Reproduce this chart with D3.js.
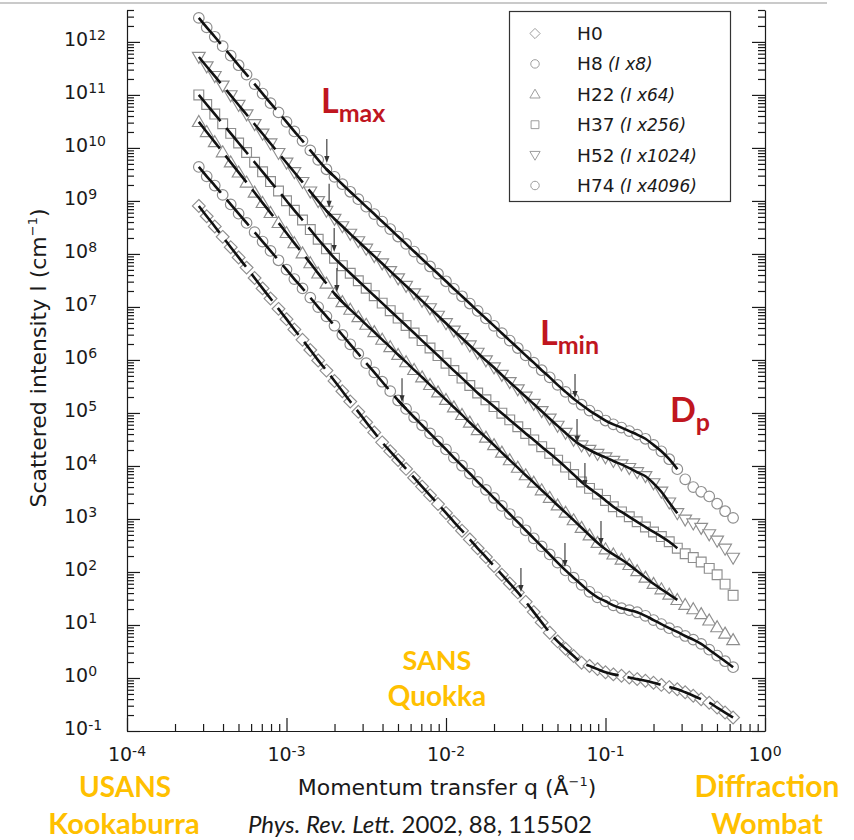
<!DOCTYPE html>
<html>
<head>
<meta charset="utf-8">
<script src="https://cdn.jsdelivr.net/npm/d3@7"></script>
<style>
  html, body { margin: 0; padding: 0; background: #fff; }
  svg { display: block; }
</style>
</head>
<body>
<svg id="chart" width="854" height="840"></svg>
<script>
// Momentum transfer q (1/Å), shared by all samples
const q = [2.82e-4,3.16e-4,3.55e-4,3.98e-4,4.47e-4,5.01e-4,5.62e-4,6.31e-4,7.08e-4,7.94e-4,
  8.91e-4,1.00e-3,1.12e-3,1.26e-3,1.41e-3,1.58e-3,1.78e-3,2.00e-3,2.24e-3,2.51e-3,
  2.82e-3,3.16e-3,3.55e-3,3.98e-3,4.47e-3,5.01e-3,5.62e-3,6.31e-3,7.08e-3,7.94e-3,
  8.91e-3,0.0100,0.0112,0.0126,0.0141,0.0158,0.0178,0.0200,0.0224,0.0251,
  0.0282,0.0316,0.0355,0.0398,0.0447,0.0501,0.0562,0.0631,0.0708,0.0794,
  0.0891,0.100,0.112,0.126,0.141,0.158,0.178,0.200,0.224,0.251,
  0.282,0.316,0.355,0.398,0.447,0.501,0.562,0.631];

// Scattered intensity I (1/cm), already multiplied by the legend factor
const H0 = [8.05e8,5.14e8,3.3e8,2.1e8,1.34e8,8.6e7,5.52e7,3.52e7,2.24e7,1.44e7,
  9.2e6,5.89e6,3.76e6,2.4e6,1.54e6,9.8e5,6.3e5,4.02e5,2.57e5,1.64e5,
  1.05e5,6.68e4,4.3e4,2.79e4,1.89e4,1.29e4,8.8e3,6.0e3,4.08e3,2.79e3,
  1.91e3,1.3e3,885,601,412,280,191,130,88.9,60.7,
  41.2,27.3,17.5,11.2,7.16,4.9,3.57,2.59,1.94,1.69,
  1.47,1.28,1.17,1.10,1.02,0.953,0.889,0.815,0.741,0.673,
  0.612,0.537,0.463,0.398,0.342,0.277,0.223,0.18];
const H8 = [4.38e9,2.91e9,1.95e9,1.3e9,8.6e8,5.75e8,3.85e8,2.57e8,1.71e8,1.14e8,
  7.6e7,5.06e7,3.36e7,2.24e7,1.5e7,9.95e6,6.65e6,4.42e6,2.96e6,1.97e6,
  1.31e6,8.7e5,5.83e5,3.88e5,2.58e5,1.72e5,1.19e5,8.3e4,5.86e4,4.12e4,
  2.91e4,2.05e4,1.44e4,1.01e4,7.2e3,5.0e3,3.54e3,2.49e3,1.76e3,1.24e3,
  871,612,432,304,214,150,107,78,57.3,42.2,
  33.3,28.0,23.5,20.7,19.0,17.4,14.9,12.4,10.4,8.7,
  7.4,6.2,5.3,4.4,3.42,2.65,2.07,1.6];
const H22 = [3.1e10,2.0e10,1.29e10,8.3e9,5.35e9,3.45e9,2.23e9,1.44e9,9.2e8,5.96e8,
  3.86e8,2.49e8,1.6e8,1.03e8,6.7e7,4.3e7,2.77e7,1.78e7,1.24e7,8.9e6,
  6.45e6,4.63e6,3.36e6,2.42e6,1.75e6,1.25e6,9.1e5,6.5e5,4.72e5,3.39e5,
  2.46e5,1.77e5,1.28e5,9.2e4,6.6e4,4.78e4,3.44e4,2.48e4,1.79e4,1.29e4,
  9.3e3,6.7e3,4.86e3,3.49e3,2.52e3,1.81e3,1.32e3,949,682,492,
  356,269,215,172,136,104,78.7,59.9,47.3,37.6,
  29.8,24.0,19.9,16.1,12.2,9.1,6.9,5.2];
const H37 = [1.0e11,6.6e10,4.35e10,2.86e10,1.88e10,1.24e10,8.2e9,5.37e9,3.54e9,2.32e9,
  1.54e9,1.01e9,6.65e8,4.37e8,2.88e8,1.89e8,1.25e8,8.3e7,6.0e7,4.33e7,
  3.12e7,2.25e7,1.63e7,1.18e7,8.5e6,6.15e6,4.46e6,3.22e6,2.32e6,1.68e6,
  1.21e6,8.7e5,6.3e5,4.55e5,3.3e5,2.38e5,1.77e5,1.32e5,9.9e4,7.4e4,
  5.5e4,4.1e4,3.1e4,2.31e4,1.73e4,1.29e4,9.5e3,6.9e3,5.0e3,3.78e3,
  2.94e3,2.24e3,1.7e3,1.36e3,1.1e3,885,706,569,466,372,
  281,221,187,154,117,88.5,59,36.3];
const H52 = [5.2e11,3.44e11,2.26e11,1.49e11,9.8e10,6.45e10,4.27e10,2.8e10,1.85e10,1.21e10,
  8.0e9,5.26e9,3.47e9,2.27e9,1.5e9,9.9e8,6.5e8,4.57e8,3.32e8,2.39e8,
  1.73e8,1.25e8,9.1e7,6.6e7,4.73e7,3.44e7,2.49e7,1.8e7,1.3e7,9.4e6,
  6.8e6,4.92e6,3.56e6,2.57e6,1.87e6,1.36e6,9.8e5,7.2e5,5.2e5,3.81e5,
  2.78e5,2.02e5,1.48e5,1.08e5,7.8e4,5.7e4,4.2e4,3.1e4,2.43e4,2.0e4,
  1.68e4,1.45e4,1.24e4,1.07e4,9.1e3,7.6e3,6.4e3,4.7e3,3.26e3,2.04e3,
  1.28e3,970,820,676,512,388,274,185];
const H74 = [2.84e12,1.88e12,1.25e12,8.3e11,5.5e11,3.63e11,2.42e11,1.60e11,1.06e11,7.0e10,
  4.68e10,3.10e10,2.05e10,1.36e10,9.0e9,5.96e9,3.96e9,2.85e9,2.07e9,1.49e9,
  1.08e9,7.8e8,5.66e8,4.08e8,2.95e8,2.13e8,1.55e8,1.11e8,8.05e7,5.8e7,
  4.23e7,3.05e7,2.2e7,1.59e7,1.16e7,8.4e6,6.07e6,4.4e6,3.2e6,2.32e6,
  1.68e6,1.22e6,8.9e5,6.4e5,4.7e5,3.39e5,2.5e5,1.85e5,1.43e5,1.11e5,
  8.9e4,7.2e4,6.1e4,5.3e4,4.55e4,3.9e4,3.26e4,2.5e4,1.89e4,1.34e4,
  8.7e3,5.6e3,4.0e3,3.26e3,2.66e3,1.94e3,1.4e3,1.05e3];

const seriesNames   = ["H0", "H8", "H22", "H37", "H52", "H74"];
const seriesFactors = ["", "(I x8)", "(I x64)", "(I x256)", "(I x1024)", "(I x4096)"];
const seriesValues  = [H0, H8, H22, H37, H52, H74];

// Fit curves: dashed below the Lmax crossover, solid above it, ending at fitEndQ
const fitSolidFromQ = [1.0, 5.3e-3, 2.07e-3, 1.99e-3, 1.85e-3, 1.79e-3];
const fitEndQ       = [0.631, 0.631, 0.282, 0.282, 0.282, 0.282];

// Crossover markers (arrow tip position)
const arrowQ = [1.79e-3, 1.85e-3, 1.99e-3, 2.07e-3, 5.3e-3, 2.95e-2,
                6.44e-2, 6.63e-2, 7.43e-2, 9.37e-2, 5.57e-2];
const arrowI = [5.2e9, 7.4e8, 1.09e8, 1.92e7, 1.6e5, 42,
                1.92e5, 2.7e4, 4.0e3, 323, 124];

// Axis tick exponents
const xTickExp = [-4, -3, -2, -1, 0];
const yTickExp = [-1, 0, 1, 2, 3, 4, 5, 6, 7, 8, 9, 10, 11, 12];

// ---- drawing ----
const svg = d3.select("#chart");
const FONT = "'DejaVu Sans', 'Liberation Sans', Arial, sans-serif";
const ANN = "Lato, 'Open Sans', 'Liberation Sans', sans-serif";
const GOLD = "#FFC000";
const RED = "#C0161F";
const MARK = "#8e8e8e";

const x = d3.scaleLog().domain([1e-4, 1]).range([127, 765]);
const y = d3.scaleLog().domain([0.1, 4e12]).range([731, 10]);

// header rule
svg.append("line").attr("x1", 0).attr("x2", 827).attr("y1", 3).attr("y2", 3)
  .attr("stroke", "#b8b8b8").attr("stroke-width", 1.6);

// symbol shapes
const symbolType = ["diamond", "circle", "triangleUp", "square", "triangleDown", "circle"];
function symbolPath(t) {
  switch (t) {
    case "diamond": { const s = 6.4; return `M0,${-s}L${s},0L0,${s}L${-s},0Z`; }
    case "square": { const s = 4.9; return `M${-s},${-s}h${2*s}v${2*s}h${-2*s}Z`; }
    case "triangleUp": { const s = 6.4; return `M0,${-s}L${s},${s*0.72}L${-s},${s*0.72}Z`; }
    case "triangleDown": { const s = 6.4; return `M0,${s}L${s},${-s*0.72}L${-s},${-s*0.72}Z`; }
    default: { const r = 5.3; return `M${r},0A${r},${r} 0 1,1 ${-r},0A${r},${r} 0 1,1 ${r},0Z`; }
  }
}

// data markers
const plot = svg.append("g");
seriesValues.forEach((vals, si) => {
  const pts = q.map((qq, i) => ({ q: qq, I: vals[i] }));
  plot.append("g").selectAll("path").data(pts).join("path")
    .attr("d", symbolPath(symbolType[si]))
    .attr("transform", d => `translate(${x(d.q)},${y(d.I)})`)
    .attr("fill", "#fff")
    .attr("stroke", MARK)
    .attr("stroke-width", 1.15);
});

// fit lines
const line = d3.line().x(d => x(d.q)).y(d => y(d.I)).curve(d3.curveMonotoneX);
seriesValues.forEach((vals, si) => {
  const pts = q.map((qq, i) => ({ q: qq, I: vals[i] })).filter(d => d.q <= fitEndQ[si] + 1e-9);
  let split = pts.findIndex(d => d.q > fitSolidFromQ[si]);
  if (split < 0) split = pts.length;
  const dashed = pts.slice(0, Math.min(split + 1, pts.length));
  const solid = split < pts.length ? pts.slice(Math.max(split - 1, 0)) : [];
  plot.append("path").attr("d", line(dashed)).attr("fill", "none")
    .attr("stroke", "#111").attr("stroke-width", 2.6).attr("stroke-dasharray", "34,9");
  if (solid.length > 1) {
    plot.append("path").attr("d", line(solid)).attr("fill", "none")
      .attr("stroke", "#111").attr("stroke-width", 2.6);
  }
});

// arrows marking the crossovers
arrowQ.forEach((aq, i) => {
  const ax = x(aq), ay = y(arrowI[i]);
  svg.append("line").attr("x1", ax).attr("x2", ax).attr("y1", ay - 24).attr("y2", ay - 5)
    .attr("stroke", "#333").attr("stroke-width", 1.1);
  svg.append("path").attr("d", `M${ax-2.6},${ay-7}L${ax},${ay}L${ax+2.6},${ay-7}Z`)
    .attr("fill", "#333");
});

// axes (ticks point inward)
const yMajor = yTickExp.map(e => Math.pow(10, e));
const xMajor = xTickExp.map(e => Math.pow(10, e));
const yMinor = [], xMinor = [];
for (let e = -1; e <= 12; e++) for (let m = 2; m <= 9; m++) { const v = m * Math.pow(10, e); if (v <= 4e12) yMinor.push(v); }
for (let e = -4; e <= -1; e++) for (let m = 2; m <= 9; m++) xMinor.push(m * Math.pow(10, e));

function styleAxis(g) {
  g.selectAll("line, path").attr("stroke", "#1a1a1a").attr("stroke-width", 1.2);
}
function addAxis(gen, tx, ty, major, minor) {
  const g = svg.append("g").attr("transform", `translate(${tx},${ty})`);
  g.call(gen.tickValues(major).tickSize(13).tickSizeOuter(0).tickFormat(""));
  const gm = svg.append("g").attr("transform", `translate(${tx},${ty})`);
  gm.call(gen.tickValues(minor).tickSize(7).tickSizeOuter(0).tickFormat(""));
  gm.select(".domain").remove();
  styleAxis(g); styleAxis(gm);
}
addAxis(d3.axisRight(y), 127, 0, yMajor, yMinor);
addAxis(d3.axisLeft(y), 765, 0, yMajor, yMinor);
addAxis(d3.axisTop(x), 0, 731, xMajor, xMinor);

// tick labels 10^n
yTickExp.forEach(e => {
  const t = svg.append("text").attr("x", 64).attr("y", y(Math.pow(10, e)) + 4)
    .attr("font-family", FONT).attr("font-size", 19).attr("fill", "#1a1a1a");
  t.append("tspan").text("10");
  t.append("tspan").attr("font-size", 14).attr("dy", -5.5).text(e);
});
xTickExp.forEach(e => {
  const t = svg.append("text").attr("x", x(Math.pow(10, e))).attr("y", 761)
    .attr("text-anchor", "middle")
    .attr("font-family", FONT).attr("font-size", 19).attr("fill", "#1a1a1a");
  t.append("tspan").text("10");
  t.append("tspan").attr("font-size", 14).attr("dy", -5.5).text(e);
});

// axis titles
const xt = svg.append("text").attr("x", 447).attr("y", 795).attr("text-anchor", "middle")
  .attr("font-family", FONT).attr("font-size", 22).attr("fill", "#1a1a1a");
xt.append("tspan").text("Momentum transfer q (Å");
xt.append("tspan").attr("font-size", 13).attr("dy", -9).text("−1");
xt.append("tspan").attr("dy", 9).text(")");

const yt = svg.append("text").attr("transform", "translate(46,358) rotate(-90)")
  .attr("text-anchor", "middle")
  .attr("font-family", FONT).attr("font-size", 22).attr("fill", "#1a1a1a");
yt.append("tspan").text("Scattered intensity I (cm");
yt.append("tspan").attr("font-size", 13).attr("dy", -9).text("−1");
yt.append("tspan").attr("dy", 9).text(")");

// legend
const lg = svg.append("g");
lg.append("rect").attr("x", 509.5).attr("y", 11.5).attr("width", 221).attr("height", 190)
  .attr("fill", "#fff").attr("stroke", "#333").attr("stroke-width", 1.2);
seriesNames.forEach((name, i) => {
  const by = 40 + 30.4 * i;
  lg.append("path").attr("d", symbolPath(symbolType[i]))
    .attr("transform", `translate(535,${by - 6.5}) scale(0.8)`)
    .attr("fill", "#fff").attr("stroke", "#999").attr("stroke-width", 1.2);
  const t = lg.append("text").attr("x", 577).attr("y", by)
    .attr("font-family", FONT).attr("font-size", 18.5).attr("fill", "#1a1a1a");
  t.append("tspan").text(name);
  if (seriesFactors[i]) {
    t.append("tspan").attr("font-size", 17).attr("font-style", "italic").text(" " + seriesFactors[i]);
  }
});

// annotations
function subLabel(xp, yp, main, sub, subDy) {
  const t = svg.append("text").attr("x", xp).attr("y", yp)
    .attr("font-family", ANN).attr("font-weight", 700).attr("fill", RED).attr("font-size", 34);
  t.append("tspan").text(main);
  t.append("tspan").attr("font-size", 25).attr("dy", subDy).text(sub);
}
subLabel(321, 113, "L", "max", 9);
subLabel(540, 345, "L", "min", 9);
subLabel(670, 422, "D", "p", 9);

function goldLabel(xp, yp, txt, size) {
  svg.append("text").attr("x", xp).attr("y", yp).attr("text-anchor", "middle")
    .attr("font-family", ANN).attr("font-weight", 700).attr("font-size", size)
    .attr("fill", GOLD).text(txt);
}
goldLabel(437, 670, "SANS", 27);
goldLabel(437, 706, "Quokka", 28);
goldLabel(125, 797, "USANS", 28);
goldLabel(124, 834, "Kookaburra", 29);
goldLabel(767, 797, "Diffraction", 30);
goldLabel(767, 834, "Wombat", 29);

const cite = svg.append("text").attr("x", 248).attr("y", 833)
  .attr("font-family", ANN).attr("font-size", 24).attr("fill", "#1a1a1a");
cite.append("tspan").attr("font-style", "italic").text("Phys. Rev. Lett.");
cite.append("tspan").text(" 2002, 88, 115502");
</script>
</body>
</html>
